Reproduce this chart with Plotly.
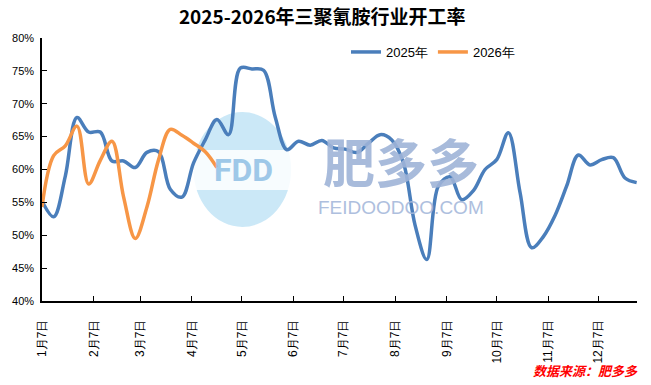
import pandas as pd
import plotly.graph_objects as go

# ---------------- data ----------------
week_dates = pd.date_range("2025-01-07", periods=52, freq="7D")

rate_2025 = [55.2, 52.8, 59.0, 67.9, 65.7, 65.7, 61.3, 61.3, 60.3, 62.6,
             62.7, 57.0, 55.8, 61.0, 64.5, 67.6, 65.3, 75.4, 75.3, 75.1,
             68.0, 63.0, 64.3, 63.7, 64.4, 63.3, 63.1, 62.6, 64.0, 65.3,
             64.5, 61.0, 51.5, 46.3, 57.5, 58.9, 55.4, 56.8, 60.0, 61.5,
             65.6, 56.5, 48.1, 49.8, 53.0, 57.5, 62.2, 60.7, 61.5, 61.8,
             58.7, 58.0]

rate_2026 = [54.3, 62.1, 63.6, 66.6, 57.8, 61.4, 64.3, 55.8, 49.5, 54.3,
             61.5, 66.1, 65.2, 64.0, 62.7, 60.3]

tick_dates = [pd.Timestamp(f"2025-{m:02d}-07") for m in range(1, 13)]
tick_labels = ["1月7日", "2月7日", "3月7日", "4月7日", "5月7日", "6月7日",
               "7月7日", "8月7日", "9月7日", "10月7日", "11月7日", "12月7日"]

series_names = ["2025年", "2026年"]
title_text = "2025-2026年三聚氰胺行业开工率"
source_text = "数据来源：肥多多"

# ---------------- figure ----------------
W, H = 651, 385
L, R, T, B = 40, 14, 38, 84
PW, PH = W - L - R, H - T - B


def px(x):
    return (x - L) / PW


def py(y):
    return (H - B - y) / PH


fig = go.Figure()
fig.add_trace(go.Scatter(x=week_dates, y=rate_2025, name=series_names[0],
                         mode="lines", line=dict(color="#4A7EBB", width=3.5,
                                                 shape="spline", smoothing=1.0)))
fig.add_trace(go.Scatter(x=week_dates[:len(rate_2026)], y=rate_2026, name=series_names[1],
                         mode="lines", line=dict(color="#F79646", width=3.5,
                                                 shape="spline", smoothing=1.0)))

# watermark (logo + text)
shapes = [
    dict(type="circle", xref="paper", yref="paper", layer="below",
         x0=px(192), x1=px(290), y0=py(227), y1=py(112),
         fillcolor="#a9d8f2", line=dict(width=0), opacity=0.6),
    dict(type="rect", xref="paper", yref="paper", layer="below",
         x0=px(185), x1=px(297), y0=py(190), y1=py(150),
         fillcolor="#ffffff", line=dict(width=0), opacity=0.85),
]
annotations = [
    dict(text="<b>FDD</b>", xref="paper", yref="paper", x=px(242), y=py(170),
         showarrow=False, font=dict(family="Roboto", size=32, color="#95c3e6"),
         opacity=0.9),
    dict(text="<b>肥多多</b>", xref="paper", yref="paper", x=px(400), y=py(160),
         showarrow=False, font=dict(family="Noto Sans CJK SC", size=52, color="#9fb4d8"),
         opacity=0.9),
    dict(text="FEIDOODOO.COM", xref="paper", yref="paper", x=px(400), y=py(207),
         showarrow=False, font=dict(family="Liberation Sans", size=19, color="#a6b9db"),
         opacity=0.9),
    dict(text="<b><i>" + source_text + "</i></b>", xref="paper", yref="paper",
         x=px(640), y=py(370), xanchor="right", yanchor="middle", showarrow=False,
         font=dict(family="Noto Sans CJK SC", size=13, color="#ff0000")),
]

fig.update_layout(
    width=W, height=H,
    margin=dict(l=L, r=R, t=T, b=B),
    paper_bgcolor="white", plot_bgcolor="white",
    title=dict(text="<b>" + title_text + "</b>", x=0.495, xref="container", xanchor="center",
               y=1 - 17 / H, yref="container", yanchor="middle",
               font=dict(family="Noto Sans CJK SC", size=19, color="black")),
    legend=dict(orientation="h", x=px(345), y=py(52), xanchor="left", yanchor="middle",
                font=dict(family="Liberation Sans", size=13, color="black"),
                bgcolor="rgba(0,0,0,0)", itemwidth=30),
    shapes=shapes,
    annotations=annotations,
    font=dict(family="Liberation Sans", size=11, color="black"),
)

fig.update_xaxes(type="date", range=["2025-01-07", "2025-12-30 05:00"],
                 tickvals=tick_dates, ticktext=tick_labels, tickangle=-90,
                 showline=True, linecolor="black", linewidth=1.5,
                 ticks="inside", ticklen=5, tickcolor="black",
                 showgrid=False, zeroline=False, ticklabelstandoff=12,
                 tickfont=dict(family="Liberation Sans", size=12, color="black"))
fig.update_yaxes(range=[40, 80], dtick=5, ticksuffix="%",
                 showline=True, linecolor="black", linewidth=1.5,
                 ticks="inside", ticklen=5, tickcolor="black",
                 showgrid=False, zeroline=False, ticklabelstandoff=4,
                 tickfont=dict(family="Liberation Sans", size=11, color="black"))

fig.write_html("out.html", config={"displayModeBar": False},
               post_script="document.body.style.margin='0px';")
